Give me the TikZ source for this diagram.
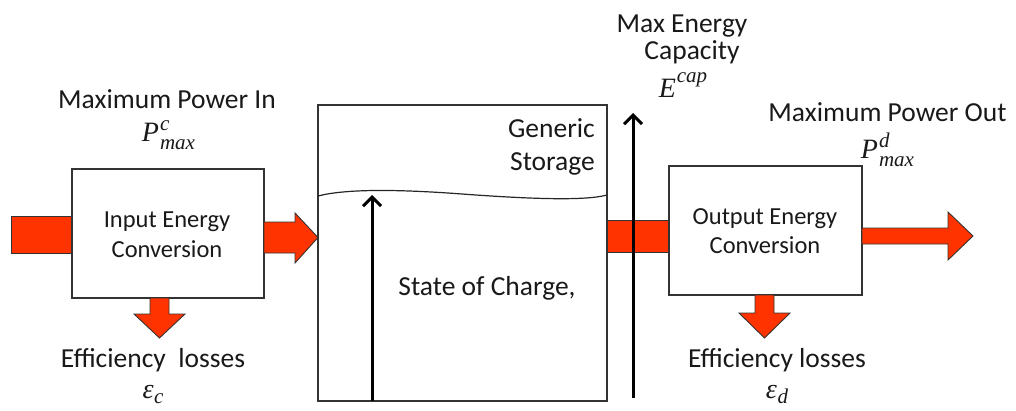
\documentclass[tikz,border=0pt]{standalone}
\usepackage{fontspec}
\setmainfont{Carlito}
\newfontfamily\mathserif{Liberation Serif}
\usetikzlibrary{arrows.meta}
\definecolor{flow}{RGB}{255,51,0}
\newcommand\PSS[3]{{\mathserif\itshape #1\kern1pt\rlap{\raisebox{11pt}{\fontsize{21}{21}\selectfont #2}}\raisebox{-8pt}{\fontsize{21}{21}\selectfont #3}}}
\newcommand\SUP[2]{{\mathserif\itshape #1\kern1pt\raisebox{15pt}{\fontsize{21}{21}\selectfont #2}}}
\newcommand\SUB[2]{{\mathserif\itshape #1\kern0.5pt\raisebox{-5pt}{\fontsize{21}{21}\selectfont #2}}}
\begin{document}
\begin{tikzpicture}[x=1pt,y=-1pt,
  box/.style={draw=black!80,line width=1.2pt,fill=white,inner sep=0pt},
  redarrow/.style={fill=flow,draw=black!80,line width=0.9pt,line join=miter},
  lbl/.style={inner sep=0pt,anchor=base,text=black!90,font=\fontsize{27.5}{32}\selectfont},
  boxtxt/.style={inner sep=0pt,anchor=base,text=black!90,font=\fontsize{24.5}{29}\selectfont},
  mathlbl/.style={inner sep=0pt,anchor=base,text=black!90,font=\fontsize{28}{32}\selectfont},
  blackarrow/.style={line width=3pt,-{Straight Barb[length=9pt,width=18pt]}}
]
\useasboundingbox (0,0) rectangle (1016,410);

% input bar (behind input box)
\filldraw[redarrow] (11,216) rectangle (90,253);
\node[box,minimum width=192pt,minimum height=129pt] (in) at (168,233.5) {};

% input -> storage arrow
\filldraw[redarrow] (264,222) -- (295,222) -- (295,213) -- (318,237.5) -- (295,263) -- (295,253) -- (264,253) -- cycle;
% input losses
\filldraw[redarrow] (150,298) -- (150,314) -- (134,314) -- (159.5,338) -- (185,314) -- (169,314) -- (169,298) -- cycle;

% storage
\node[box,minimum width=289pt,minimum height=296pt] (st) at (462.5,253) {};
\draw[line width=1.2pt,black!85] (318,196) .. controls (345,189) and (395,189) .. (462,194) .. controls (530,199) and (585,201) .. (607,195);
\coordinate (socbot) at (372,400.5);
\coordinate (soctop) at (372,195);
\draw[blackarrow] (socbot) -- (soctop);

% storage -> output bar
\filldraw[redarrow] (607,220) rectangle (669,252);
% capacity arrow
\coordinate (capbot) at (633,398);
\coordinate (captop) at (633,113);
\draw[blackarrow] (capbot) -- (captop);

% output box
\node[box,minimum width=193pt,minimum height=129pt] (out) at (765.5,230.5) {};
\filldraw[redarrow] (862,228) -- (948,228) -- (948,212) -- (973,236) -- (948,260) -- (948,244) -- (862,244) -- cycle;
\filldraw[redarrow] (755,295) -- (755,313) -- (739,313) -- (764.5,338) -- (790,313) -- (774,313) -- (774,295) -- cycle;

% texts
\node[lbl] (mpi) at (167,108) {Maximum Power In};
\node[mathlbl] (pc) at (168.5,141) {\PSS{P}{c}{max}};
\node[lbl] (el1) at (153,367) {Efficiency\ \ losses};
\node[mathlbl] (ec) at (153,398) {\SUB{ε}{c}};
\node[boxtxt] (in1) at (167,227) {Input Energy};
\node[boxtxt] (in2) at (167,257) {Conversion};

\node[lbl,anchor=base east] (g1) at (595,137) {Generic};
\node[lbl,anchor=base east] (g2) at (595,170) {Storage};
\node[lbl] (soc) at (487,295) {State of Charge,};

\node[lbl] (me1) at (682,32) {Max Energy};
\node[lbl] (me2) at (692,59) {Capacity};
\node[mathlbl] (ecap) at (683,97) {\SUP{E}{cap}};

\node[lbl] (mpo) at (887.5,121) {Maximum Power Out};
\node[mathlbl] (pd) at (887.5,158) {\PSS{P}{d}{max}};
\node[boxtxt] (out1) at (765,224) {Output Energy};
\node[boxtxt] (out2) at (765,253) {Conversion};
\node[lbl] (el2) at (777,367) {Efficiency losses};
\node[mathlbl] (ed) at (777,398) {\SUB{ε}{d}};
\end{tikzpicture}
\end{document}
